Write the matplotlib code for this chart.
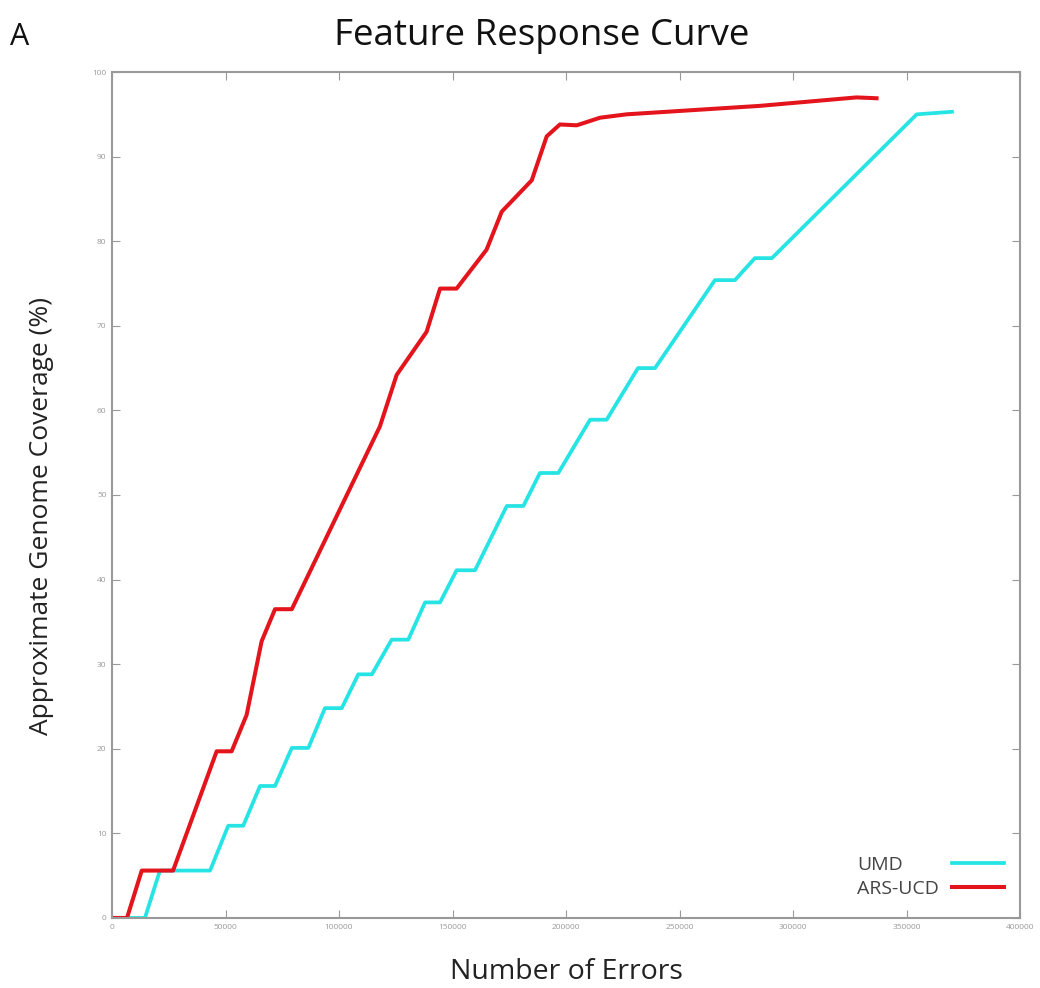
import numpy as np
import matplotlib
matplotlib.use('Agg')
import matplotlib.pyplot as plt

## data
umd_x = [0, 14500, 21100, 43200, 51200, 57800, 65200, 71800, 79200, 86500,
         93800, 101200, 108500, 114500, 123200, 130500, 137900, 144500, 151800, 159900,
         173900, 181200, 188500, 196600, 210600, 217900, 231700, 239200, 265600, 274400,
         283200, 290700, 354500, 370000]
umd_y = [0, 0, 5.6, 5.6, 10.9, 10.9, 15.6, 15.6, 20.1, 20.1,
         24.8, 24.8, 28.8, 28.8, 32.9, 32.9, 37.3, 37.3, 41.1, 41.1,
         48.7, 48.7, 52.6, 52.6, 58.9, 58.9, 65.0, 65.0, 75.4, 75.4,
         78.0, 78.0, 95.0, 95.3]

ars_x = [0, 6600, 13100, 26900, 46100, 52700, 59300, 65900, 71800, 79200,
         118000, 125400, 138600, 144500, 151800, 165000, 171700, 184900, 191500, 197300,
         204700, 215000, 226700, 285400, 328000, 336800]
ars_y = [0, 0, 5.6, 5.6, 19.7, 19.7, 24.0, 32.7, 36.5, 36.5,
         58.1, 64.2, 69.3, 74.4, 74.4, 79.0, 83.5, 87.2, 92.4, 93.8,
         93.7, 94.6, 95.0, 96.0, 97.0, 96.9]

x_ticks = np.arange(0, 400001, 50000)
y_ticks = np.arange(0, 101, 10)

plt.rcParams['font.family'] = ['Open Sans', 'DejaVu Sans']

fig = plt.figure(figsize=(10.4, 9.88), dpi=100)
ax = fig.add_axes([0.1077, 0.0709, 0.8731, 0.8562])

ax.plot(umd_x, umd_y, color='#26e4e4', lw=2.7, label='UMD')
ax.plot(ars_x, ars_y, color='#e3141c', lw=2.9, label='ARS-UCD')

ax.set_xlim(0, 400000)
ax.set_ylim(0, 100)
ax.set_xticks(x_ticks)
ax.set_yticks(y_ticks)
ax.tick_params(direction='in', top=True, right=True, length=6, width=0.8,
               colors='#999999', labelsize=6, labelcolor='#999999', pad=4)
for s in ax.spines.values():
    s.set_color('#999999')
    s.set_linewidth(1.5)

ax.set_xlabel('Number of Errors', fontsize=20.5, color='#222222', labelpad=20)
ax.set_ylabel('Approximate Genome Coverage (%)', fontsize=19, color='#222222')
ax.yaxis.set_label_coords(-0.064, 0.475)
fig.text(0.521, 0.964, 'Feature Response Curve', ha='center', va='center',
         fontsize=26.5, color='#111111')
fig.text(0.01, 0.963, 'A', ha='left', va='center', fontsize=22, color='#111111')

leg = ax.legend(loc='lower right', frameon=False, markerfirst=False, fontsize=14,
                handlelength=2.7, labelspacing=0.32, bbox_to_anchor=(1.002, 0.003))
for t in leg.get_texts():
    t.set_color('#444444')
# left-align the labels, keep the line keys on the right
for row in leg._legend_handle_box.get_children()[0].get_children():
    row.mode = 'expand'
    row.width = 147

plt.savefig('out.png', dpi=100)
